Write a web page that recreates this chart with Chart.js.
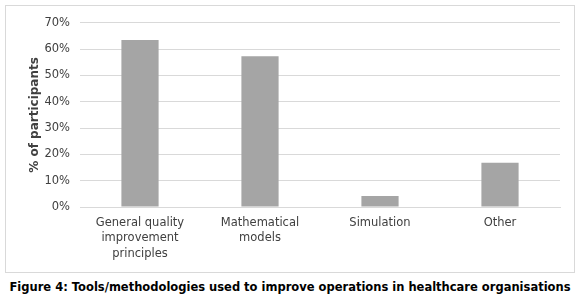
<!DOCTYPE html>
<html>
<head>
<meta charset="utf-8">
<script src="https://cdn.jsdelivr.net/npm/chart.js@4"></script>
<style>
  html, body { margin: 0; padding: 0; background: #fff; }
  #frame {
    position: absolute; left: 5px; top: 5px;
    width: 568px; height: 266px;
    border: 1px solid #d9d9d9;
  }
  #caption {
    position: absolute; left: 0; top: 280px; width: 580px;
    text-align: center;
    font: bold 11.5px "DejaVu Sans", sans-serif;
    color: #000;
  }
</style>
</head>
<body>
<div id="frame"><canvas id="chart_toolsMethodologies"></canvas></div>
<div id="caption">Figure 4: Tools/methodologies used to improve operations in healthcare organisations</div>
<script>
// categories and values (percent of participants)
var categories = [
    ['General quality', 'improvement', 'principles'],
    ['Mathematical', 'models'],
    'Simulation',
    'Other'
];
var participantPercent = [63.5, 57.3, 4.2, 16.8];
var yTicks = [0, 10, 20, 30, 40, 50, 60, 70];

var canvas = document.getElementById('chart_toolsMethodologies');
canvas.width = 568;
canvas.height = 266;

var chart_toolsMethodologies = new Chart(canvas, {
    type: 'bar',
    data: {
        labels: categories,
        datasets: [
            {
                label: '% of participants',
                backgroundColor: '#a5a5a5',
                borderWidth: 0,
                barPercentage: 0.31,
                categoryPercentage: 1,
                data: participantPercent
            }
        ]
    },
    options: {
        animation: false,
        responsive: false,
        maintainAspectRatio: false,
        layout: {
            padding: { left: 22, right: 14, top: 11, bottom: 0 }
        },
        plugins: {
            legend: { display: false },
            tooltip: { enabled: false }
        },
        scales: {
            x: {
                grid: { display: false, drawTicks: false },
                border: { color: '#d9d9d9', width: 1 },
                ticks: {
                    color: '#404040',
                    padding: 8,
                    maxRotation: 0,
                    autoSkip: false,
                    font: { family: 'DejaVu Sans', size: 11.5, lineHeight: 1.35 }
                },
                afterFit: function (scale) { scale.height = 65; }
            },
            y: {
                min: 0,
                max: 70,
                afterBuildTicks: function (scale) {
                    scale.ticks = yTicks.map(function (v) { return { value: v }; });
                },
                title: {
                    display: true,
                    text: '% of participants',
                    color: '#404040',
                    padding: { top: 0, bottom: 0 },
                    font: { family: 'DejaVu Sans', size: 12, weight: 'bold' }
                },
                grid: { color: '#d9d9d9', drawTicks: false },
                border: { display: false },
                ticks: {
                    color: '#404040',
                    padding: 10,
                    font: { family: 'DejaVu Sans', size: 11.5 },
                    callback: function (v) { return v + '%'; }
                },
                afterFit: function (scale) { scale.width = 52; }
            }
        }
    }
});
</script>
</body>
</html>
